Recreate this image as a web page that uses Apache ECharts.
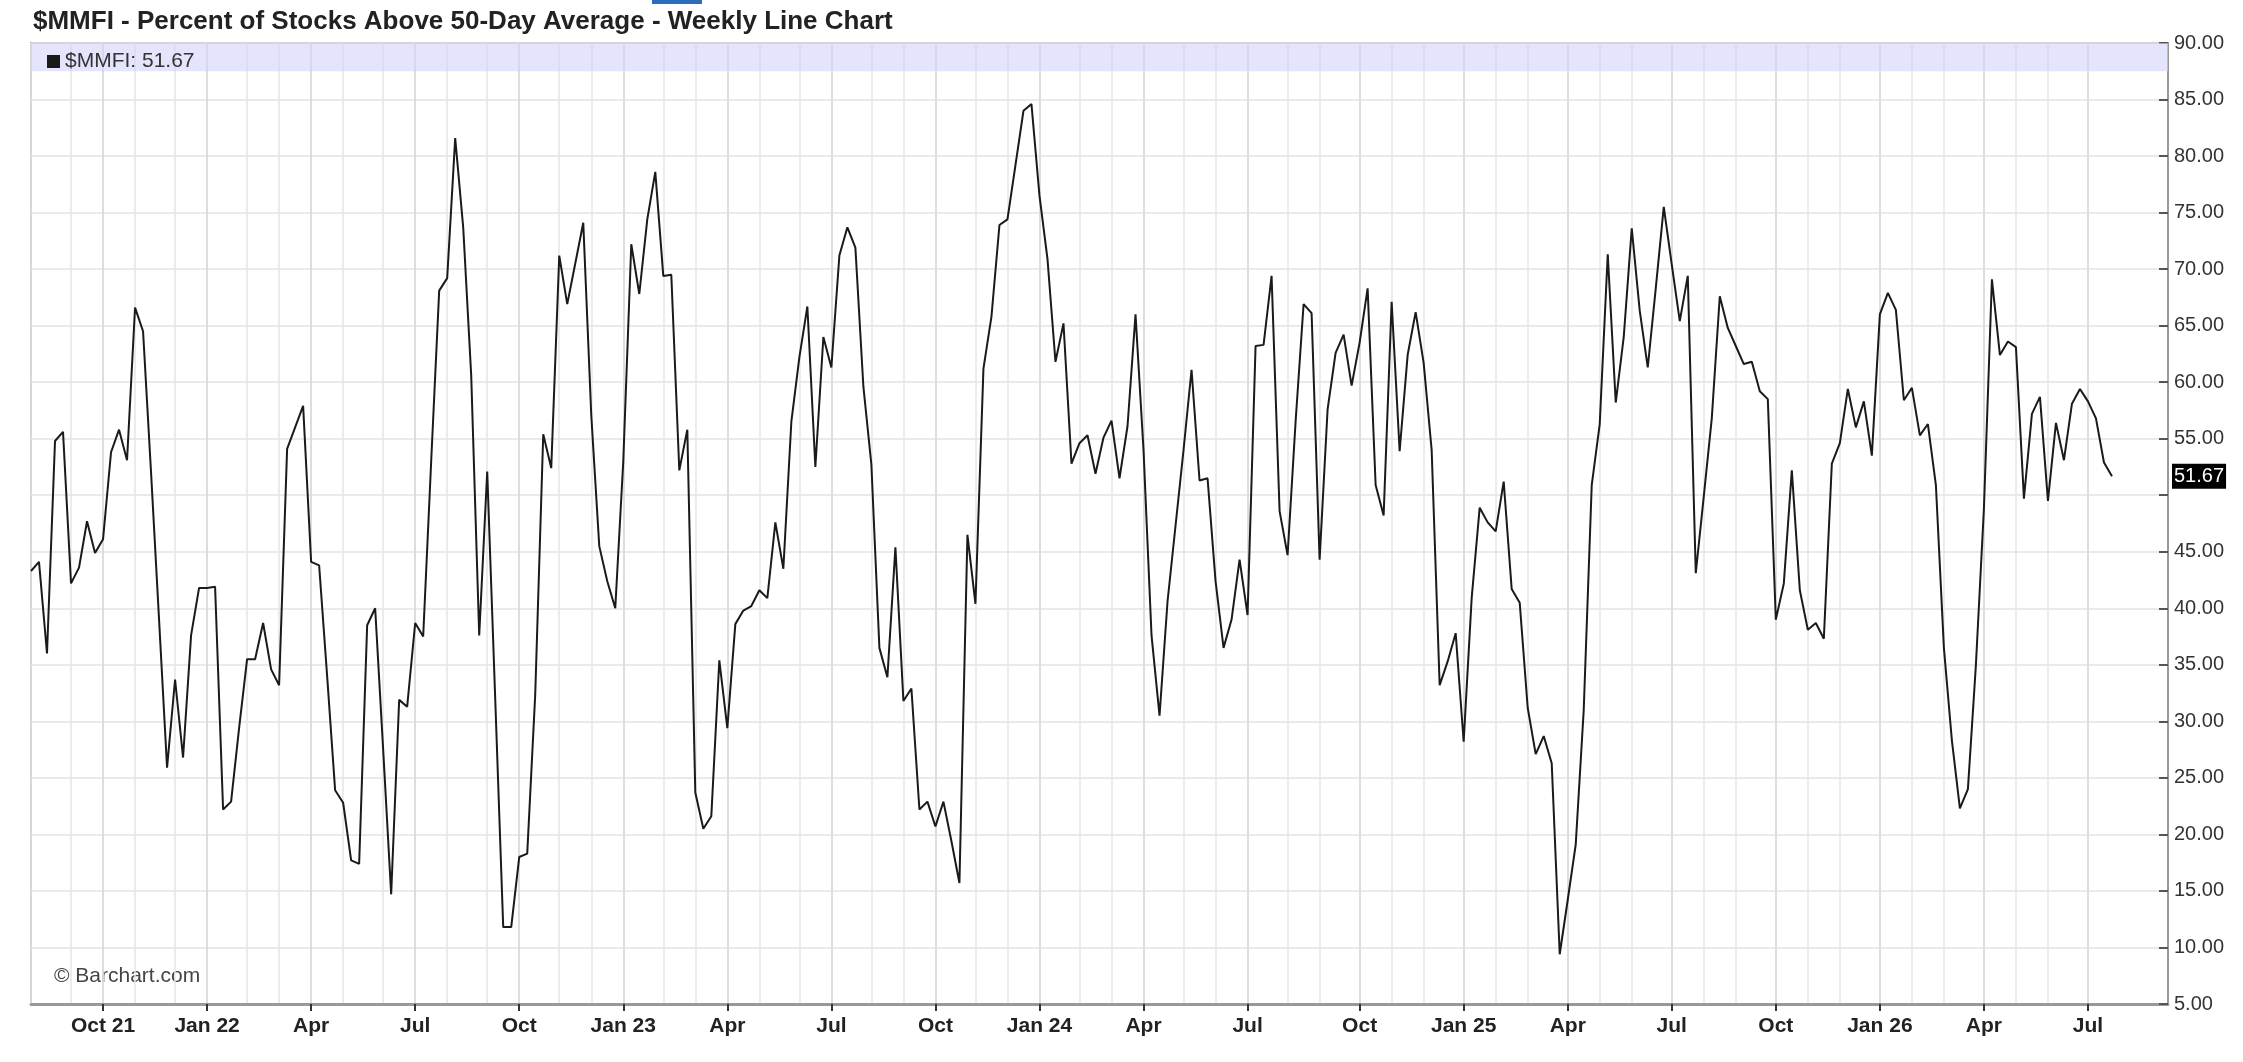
<!DOCTYPE html>
<html>
<head>
<meta charset="utf-8">
<title>$MMFI Weekly Line Chart</title>
<script src="https://cdn.jsdelivr.net/npm/echarts@6/dist/echarts.min.js"></script>
<style>
  html, body { margin: 0; padding: 0; background: #fff; }
  #chart { width: 2243px; height: 1062px; }
</style>
</head>
<body>
<div id="chart"></div>
<script>
// first weekly bar (Mondays) and how many weeks the x axis spans
var startDate = "2021-08-02";
var axisWeeks = 268;

// $MMFI weekly values
var mmfiValues = [
  43.3, 44.1, 36.0, 54.8, 55.6, 42.2, 43.6, 47.7, 44.9, 46.1,
  53.8, 55.8, 53.1, 66.6, 64.5, 52.0, 39.0, 25.9, 33.7, 26.8,
  37.6, 41.8, 41.8, 41.9, 22.2, 22.9, 29.4, 35.5, 35.5, 38.7,
  34.6, 33.2, 54.1, 56.0, 57.9, 44.1, 43.8, 34.0, 23.9, 22.8,
  17.7, 17.4, 38.5, 40.0, 27.5, 14.7, 31.9, 31.3, 38.7, 37.5,
  53.0, 68.1, 69.2, 81.6, 73.7, 60.6, 37.6, 52.1, 32.0, 11.8,
  11.8, 18.0, 18.3, 32.4, 55.4, 52.4, 71.2, 66.9, 70.5, 74.1,
  57.1, 45.5, 42.4, 40.0, 53.0, 72.2, 67.8, 74.4, 78.6, 69.4,
  69.5, 52.2, 55.8, 23.7, 20.5, 21.6, 35.4, 29.4, 38.6, 39.8,
  40.2, 41.6, 40.9, 47.6, 43.5, 56.5, 62.2, 66.7, 52.5, 64.0,
  61.3, 71.2, 73.7, 71.9, 59.6, 52.7, 36.5, 33.9, 45.4, 31.8,
  32.9, 22.2, 22.9, 20.7, 22.9, 19.4, 15.7, 46.5, 40.4, 61.2,
  65.8, 73.9, 74.4, 79.2, 84.0, 84.6, 76.5, 70.9, 61.8, 65.2,
  52.8, 54.6, 55.3, 51.9, 55.1, 56.6, 51.5, 56.1, 66.0, 54.0,
  37.6, 30.5, 40.6, 47.3, 54.0, 61.1, 51.3, 51.5, 42.4, 36.5,
  39.0, 44.3, 39.4, 63.2, 63.3, 69.4, 48.6, 44.7, 56.5, 66.9,
  66.1, 44.3, 57.6, 62.6, 64.2, 59.7, 63.5, 68.3, 50.9, 48.2,
  67.1, 53.9, 62.4, 66.2, 61.7, 54.0, 33.2, 35.3, 37.8, 28.2,
  40.9, 48.9, 47.6, 46.8, 51.2, 41.7, 40.5, 31.2, 27.1, 28.7,
  26.3, 9.4, 14.2, 19.1, 31.0, 50.9, 56.3, 71.3, 58.2, 64.0,
  73.6, 66.3, 61.3, 68.3, 75.5, 70.4, 65.4, 69.4, 43.1, 49.9,
  56.8, 67.6, 64.8, 63.2, 61.6, 61.8, 59.2, 58.5, 39.0, 42.2,
  52.2, 41.6, 38.1, 38.7, 37.3, 52.8, 54.6, 59.4, 56.0, 58.3,
  53.5, 66.0, 67.9, 66.4, 58.4, 59.5, 55.3, 56.3, 50.9, 36.5,
  28.3, 22.3, 24.0, 35.0, 48.8, 69.1, 62.4, 63.6, 63.1, 49.7,
  57.2, 58.7, 49.5, 56.4, 53.1, 58.1, 59.4, 58.3, 56.8, 52.9,
  51.67
];

var monthNames = ["Jan", "Feb", "Mar", "Apr", "May", "Jun", "Jul", "Aug", "Sep", "Oct", "Nov", "Dec"];
var quarterMonths = [0, 3, 6, 9];
var yMin = 5, yMax = 90, yStep = 5;
var bandFrom = 87.5; // legend strip at the top of the plot

var fontName = "Liberation Sans, Arial, sans-serif";
var lastValue = mmfiValues[mmfiValues.length - 1];

// weekly categories
var weekDates = [];
var t0 = Date.parse(startDate + "T00:00:00Z");
for (var k = 0; k < axisWeeks; k++) {
  weekDates.push(new Date(t0 + k * 7 * 86400000).toISOString().slice(0, 10));
}

function monthOf(value) { return +value.slice(5, 7) - 1; }
function isMonthStart(index, value) {
  return index < mmfiValues.length && +value.slice(8, 10) <= 7;
}
function isQuarterStart(index, value) {
  return +value.slice(8, 10) <= 7 && quarterMonths.indexOf(monthOf(value)) >= 0;
}
var firstLabelIdx = weekDates.findIndex(function (v, i) { return isQuarterStart(i, v); });

var chart = echarts.init(document.getElementById("chart"));

var option = {
  animation: false,
  backgroundColor: "#fff",
  textStyle: { fontFamily: fontName },
  title: {
    text: "$MMFI - Percent of Stocks Above 50-Day Average - Weekly Line Chart",
    left: 28,
    top: 4,
    textStyle: { fontSize: 26, fontWeight: "bold", color: "#222", fontFamily: fontName },
  },
  legend: {
    left: 42,
    top: 46,
    icon: "rect",
    itemWidth: 13,
    itemHeight: 13,
    itemGap: 8,
    selectedMode: false,
    textStyle: { fontSize: 21, color: "#333", fontFamily: fontName },
    formatter: function (name) {
      return name + ": " + lastValue.toFixed(2);
    },
  },
  grid: {
    left: 31,
    right: 75,
    top: 43,
    bottom: 58,
    show: true,
    borderColor: "#a8a8a8",
    borderWidth: 2,
  },
  graphic: [
    { type: "rect", left: 652, top: 0, shape: { width: 50, height: 4 }, style: { fill: "#2a6ebb" } },
    {
      type: "text",
      left: 54,
      top: 966,
      style: { text: "© Barchart.com", fontSize: 21, fill: "#444", fontFamily: fontName },
    },
  ],
  xAxis: [
    {
      type: "category",
      data: weekDates,
      boundaryGap: false,
      axisLine: { lineStyle: { color: "#999", width: 3 } },
      axisTick: {
        interval: isQuarterStart,
        length: 7,
        lineStyle: { color: "#333", width: 2 },
      },
      axisLabel: {
        interval: isQuarterStart,
        margin: 12,
        fontSize: 21,
        fontWeight: "bold",
        color: "#222",
        fontFamily: fontName,
        formatter: function (value, index) {
          var m = monthOf(value);
          var name = monthNames[m];
          if (m === 0 || index === firstLabelIdx) name += " " + value.slice(2, 4);
          return name;
        },
      },
      splitLine: {
        show: true,
        interval: isMonthStart,
        lineStyle: { color: "#e6e6e6", width: 1.5 },
      },
    },
    {
      type: "category",
      data: weekDates,
      boundaryGap: false,
      axisLine: { show: false },
      axisTick: { show: false },
      axisLabel: { show: false },
      splitLine: {
        show: true,
        interval: function (index, value) {
          return index < mmfiValues.length && isQuarterStart(index, value);
        },
        lineStyle: { color: "#d9d9d9", width: 1.5 },
      },
    },
  ],
  yAxis: {
    type: "value",
    position: "right",
    min: yMin,
    max: yMax,
    interval: yStep,
    axisLine: { show: true, lineStyle: { color: "#999", width: 2 } },
    axisTick: { show: true, inside: true, length: 9, lineStyle: { color: "#555", width: 2 } },
    axisLabel: {
      margin: 6,
      fontSize: 20,
      color: "#333",
      fontFamily: fontName,
      formatter: function (v) {
        // barchart hides the tick label sitting under the last-value box
        if (Math.abs(v - lastValue) < yStep / 2) return "";
        return v.toFixed(2);
      },
    },
    splitLine: { show: true, lineStyle: { color: "#e3e3e3", width: 1.5 } },
  },
  series: [
    {
      name: "$MMFI",
      type: "line",
      data: mmfiValues,
      showSymbol: false,
      symbol: "none",
      lineStyle: { color: "#1a1a1a", width: 2 },
      itemStyle: { color: "#1a1a1a" },
      markArea: {
        silent: true,
        itemStyle: { color: "rgba(210,210,250,0.6)" },
        data: [[{ yAxis: bandFrom }, { yAxis: yMax }]],
      },
      markLine: {
        silent: true,
        symbol: "none",
        lineStyle: { color: "transparent", width: 0 },
        label: {
          position: "end",
          distance: 4,
          formatter: lastValue.toFixed(2),
          backgroundColor: "#000",
          color: "#fff",
          padding: [3, 2, 2, 2],
          fontSize: 20,
          fontFamily: fontName,
        },
        data: [{ yAxis: lastValue }],
      },
    },
  ],
};

chart.setOption(option);
</script>
</body>
</html>
